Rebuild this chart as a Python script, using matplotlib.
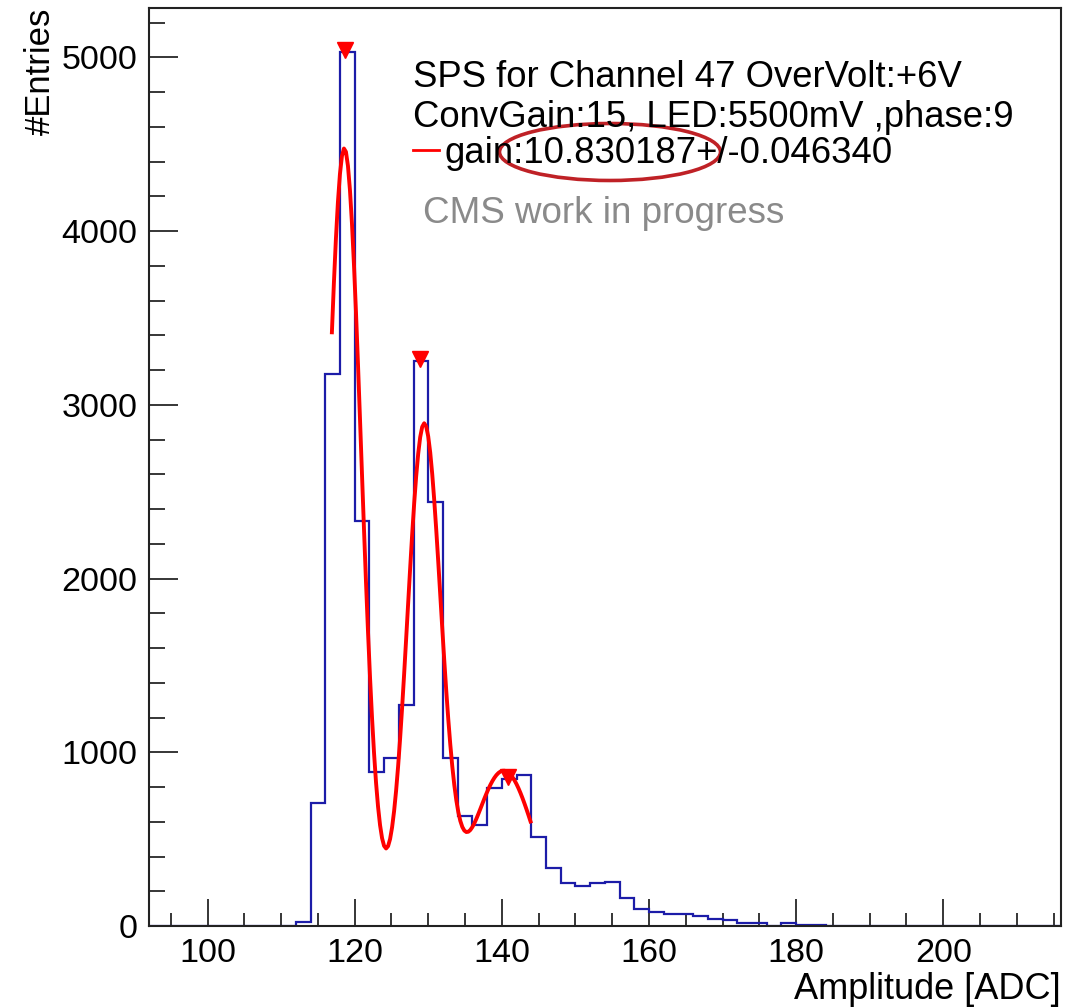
import numpy as np
import matplotlib
matplotlib.use("Agg")
import matplotlib.pyplot as plt
from matplotlib.patches import Ellipse
from matplotlib.ticker import MultipleLocator, FixedLocator

plt.rcParams["font.family"] = ["Liberation Sans", "DejaVu Sans"]

# ---------------- data ----------------
x_min, x_max, bin_width = 92, 216, 2
counts = [0, 0, 0, 0, 0, 0, 0, 0, 0, 0,
          25, 710, 3177, 5032, 2329, 888, 969, 1274, 3254, 2440,
          967, 633, 580, 796, 848, 871, 514, 332, 246, 229,
          247, 255, 161, 100, 81, 67, 67, 59, 42, 33,
          17, 17, 0, 17, 6, 6,
          0, 0, 0, 0, 0, 0, 0, 0, 0, 0, 0, 0, 0, 0, 0, 0]
peak_x = [118.68, 128.9, 140.79]
peak_y = [5044, 3262, 860]
# multi-gaussian fit parameters
fit_mean = [118.59, 129.42, 140.25]
fit_amp = [4476, 2866, 894]
fit_sigma = [2.3, 2.3, 4.1]
fit_range = [116.9, 143.9]

header_lines = ["SPS for Channel 47 OverVolt:+6V",
                "ConvGain:15, LED:5500mV ,phase:9"]
legend_label = "gain:10.830187+/-0.046340"
watermark = "CMS work in progress"

# ---------------- figure ----------------
W, H = 1085, 1008
fig = plt.figure(figsize=(W / 100, H / 100), dpi=100)
L, R, T, B = 148.7, 1061, 8, 926
ax = fig.add_axes([L / W, 1 - B / H, (R - L) / W, (B - T) / H])

edges = np.arange(x_min, x_max + bin_width / 2, bin_width)
ax.stairs(counts, edges, color="#1c1ca8", lw=1.6, zorder=2)

xf = np.linspace(fit_range[0], fit_range[1], 100)
yf = np.zeros_like(xf)
for a, m, s in zip(fit_amp, fit_mean, fit_sigma):
    yf += a * np.exp(-0.5 * ((xf - m) / s) ** 2)
ax.plot(xf, yf, color="red", lw=2.8, zorder=3)

ax.plot(peak_x, peak_y, linestyle="none", marker="v", color="red",
        markersize=11, zorder=4)

ax.set_xlim(x_min, x_max)
ax.set_ylim(0, max(counts) * 1.05)

ax.xaxis.set_major_locator(FixedLocator([100, 120, 140, 160, 180, 200]))
ax.xaxis.set_minor_locator(MultipleLocator(5))
ax.yaxis.set_major_locator(MultipleLocator(1000))
ax.yaxis.set_minor_locator(MultipleLocator(200))

ax.tick_params(axis="x", which="major", direction="in", length=19.4, width=1.1,
               labelsize=24.6, pad=9, top=False)
ax.tick_params(axis="x", which="minor", direction="in", length=9.4, width=1.1, top=False)
ax.tick_params(axis="y", which="major", direction="in", length=20.9, width=1.1,
               labelsize=24.6, pad=8.2, right=False)
ax.tick_params(axis="y", which="minor", direction="in", length=11.3, width=1.1, right=False)
for sp in ax.spines.values():
    sp.set_linewidth(1.5)
    sp.set_color("#222222")
    sp.set_zorder(5)

ax.set_xlabel("Amplitude [ADC]", fontsize=26, loc="right", va="baseline")
ax.xaxis.set_label_coords(1.0, -(999 - B) / (B - T))
ax.set_ylabel("#Entries", fontsize=25, loc="top", va="baseline")
ax.yaxis.set_label_coords(-(L - 50) / (R - L), 1.0)

def fpos(x, y):
    return x / W, 1 - y / H

fs = 26.3
fig.text(*fpos(413, 87.3), header_lines[0], fontsize=fs, va="baseline")
fig.text(*fpos(413, 127.3), header_lines[1], fontsize=fs, va="baseline")
fig.text(*fpos(445, 163.3), legend_label, fontsize=fs, va="baseline")
fig.add_artist(plt.Line2D([413 / W, 439 / W], [1 - 150 / H, 1 - 150 / H],
                          color="red", lw=2.0))
fig.text(*fpos(423, 223.3), watermark, fontsize=26.5, va="baseline", color="#8a8a8a")

ell = Ellipse(fpos(610, 152), width=221 / W, height=57 / H, fill=False,
              edgecolor="#bf2126", lw=2.6, transform=fig.transFigure)
fig.add_artist(ell)

fig.savefig("out.png", dpi=100)
